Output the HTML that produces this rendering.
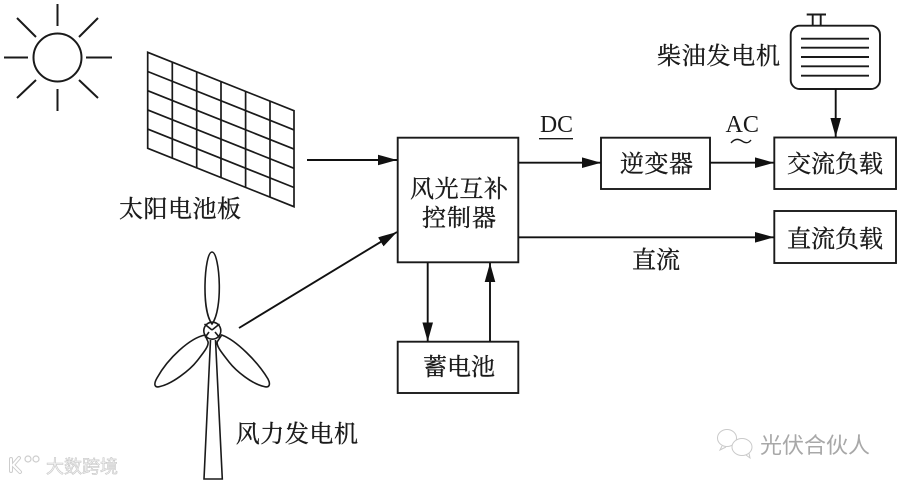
<!DOCTYPE html>
<html lang="zh">
<head>
<meta charset="utf-8">
<style>
html,body{margin:0;padding:0;background:#fff;width:900px;height:483px;overflow:hidden}
svg{display:block;filter:blur(0.35px)}
text{font-family:"Liberation Serif","Noto Serif CJK SC",serif;fill:#1a1a1a}
.t{font-size:24px;dominant-baseline:central;stroke:#1a1a1a;stroke-width:.35px}
.w{font-family:"Liberation Sans","Noto Sans CJK SC",sans-serif}
</style>
</head>
<body>
<svg width="900" height="483" viewBox="0 0 900 483" xmlns="http://www.w3.org/2000/svg">
<defs>
<marker id="a" markerUnits="userSpaceOnUse" markerWidth="19" markerHeight="12" refX="19" refY="6" orient="auto"><path d="M0 0.7L19 6L0 11.3z" fill="#111"/></marker>
</defs>

<!-- sun -->
<g fill="none" stroke="#1a1a1a" stroke-width="2">
<circle cx="57.5" cy="57.5" r="24"/>
<path d="M57.5 4V26M57.5 89V111M4 57.5H28M86 57.5H112M17 18L36 37M98 18L79 37M17 98L36 80M98 98L79 80"/>
</g>

<!-- solar panel -->
<g fill="none" stroke="#1a1a1a" stroke-width="1.7">
<path d="M147.7 52.3L294 110.7V206.7L147.7 148.3Z"/>
<path d="M172.3 62.2V158.2M196.7 72V168M221 81.7V177.7M245.6 91.5V187.5M270 101V197"/>
<path d="M147.7 71.5L294 129.9M147.7 90.7L294 149.1M147.7 109.9L294 168.3M147.7 129.1L294 187.5"/>
</g>

<!-- wind turbine -->
<g fill="none" stroke="#1a1a1a" stroke-width="1.6">
<circle cx="212.3" cy="330.7" r="8.5"/>
<path d="M212 324C206 316 204.8 298 205 285C205.3 268 208 252 212 252C216 252 219 268 219.3 285C219.5 298 218 316 212 324Z"/>
<path d="M205 335C190 338 168 358 157 378C153 385 155 388 160 386.5C172 384 190 370 197 361C204 352 209 346 208 341.7Z"/>
<path d="M221.7 335C236 340 258 362 268 379C271 385 269 388 264 386.5C252 384 236 371 229 362C222 353 216 346 217.3 341.7Z"/>
<path d="M204.5 324L212 330M219.5 324L212 330M205 337.5L209 332M219.5 337.5L215 332"/>
<path d="M210.5 340L204 479H222.3L215.5 340"/>
</g>

<!-- boxes -->
<g fill="#fff" stroke="#1a1a1a" stroke-width="1.9">
<rect x="397.7" y="137.7" width="120.6" height="124.6"/>
<rect x="601" y="137.7" width="109" height="51.3"/>
<rect x="774.3" y="137.5" width="121.7" height="51.5"/>
<rect x="774.3" y="211" width="121.7" height="52"/>
<rect x="397.7" y="341.7" width="120.6" height="51.3"/>
</g>

<!-- generator -->
<g fill="none" stroke="#1a1a1a" stroke-width="1.9">
<rect x="790.7" y="25.7" width="89.3" height="63.3" rx="9"/>
<path d="M801 38.7H869M801 47.7H869M801 57H869M801 66.3H869M801 75.7H869"/>
<path d="M806.7 14.5H826M812.7 14.5V25.7M820.7 14.5V25.7"/>
</g>

<!-- connectors -->
<g fill="none" stroke="#111" stroke-width="1.9" marker-end="url(#a)">
<path d="M307 160H397"/>
<path d="M239 328L397 232"/>
<path d="M518.5 162.7H601"/>
<path d="M710 162.7H774"/>
<path d="M518.5 237.3H774"/>
<path d="M427.7 262.5V341.5"/>
<path d="M490 341.5V263"/>
<path d="M835.7 89V137"/>
</g>

<!-- DC / AC -->
<text x="540" y="132" font-size="24" textLength="33" lengthAdjust="spacingAndGlyphs">DC</text>
<path d="M539 138.7H573" stroke="#1a1a1a" stroke-width="1.4" fill="none"/>
<text x="725.5" y="132" font-size="24" textLength="33.5" lengthAdjust="spacingAndGlyphs">AC</text>
<path d="M731 143C735 138 739 139 742 141C745 143 748 144 751 140" stroke="#1a1a1a" stroke-width="1.4" fill="none"/>

<!-- labels -->
<text class="t" x="119" y="210" textLength="122">太阳电池板</text>
<text class="t" x="657" y="57" textLength="123">柴油发电机</text>
<text class="t" x="235.7" y="435" textLength="122.3">风力发电机</text>
<text class="t" x="410" y="190" textLength="98">风光互补</text>
<text class="t" x="422" y="219" textLength="74">控制器</text>
<text class="t" x="620" y="165" textLength="73">逆变器</text>
<text class="t" x="787" y="165" textLength="96">交流负载</text>
<text class="t" x="787" y="240" textLength="96">直流负载</text>
<text class="t" x="632" y="261" textLength="48">直流</text>
<text class="t" x="423" y="368" textLength="72">蓄电池</text>

<!-- watermarks -->
<g fill="none" stroke-linejoin="round" stroke-linecap="round">
<path d="M11 459V471M19 458L13 465L20 472" stroke="#cdcdcd" stroke-width="4"/>
<path d="M11 459V471M19 458L13 465L20 472" stroke="#fff" stroke-width="2"/>
<circle cx="28" cy="459" r="3" stroke="#cdcdcd" stroke-width="1.2"/>
<circle cx="36" cy="459" r="3" stroke="#cdcdcd" stroke-width="1.2"/>
</g>
<text class="w" x="46" y="473" font-size="18" textLength="72" style="fill:#f4f4f4;stroke:#c8c8c8;stroke-width:.6px">大数跨境</text>
<g fill="none" stroke="#cacaca" stroke-width="1">
<ellipse cx="727" cy="438" rx="9.5" ry="8.5"/>
<ellipse cx="742" cy="447" rx="10" ry="8.5" fill="#fff"/>
<path d="M722 446L720 450L726 447M746 455L750 458L749 453"/>
</g>
<text class="w" x="760" y="453" font-size="22" textLength="110" style="fill:#a8a8a8">光伏合伙人</text>
</svg>
</body>
</html>
